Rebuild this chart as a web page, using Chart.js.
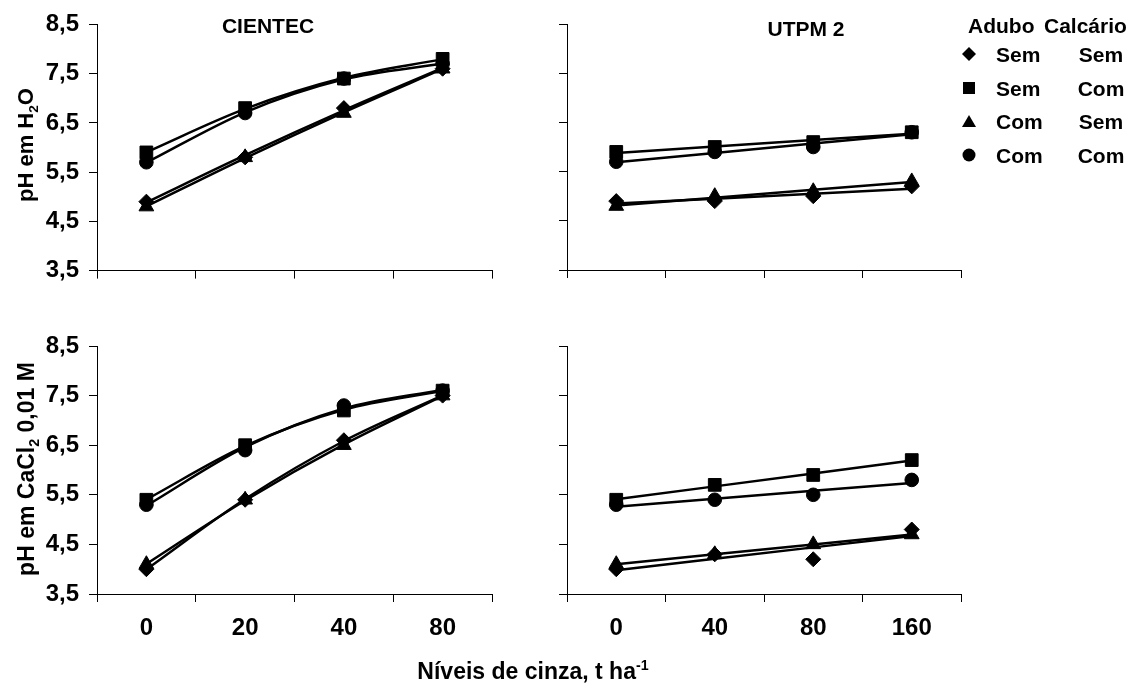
<!DOCTYPE html>
<html>
<head>
<meta charset="utf-8">
<script src="https://cdn.jsdelivr.net/npm/chart.js@4"></script>
<style>
  body { margin: 0; background: #fff; width: 1136px; height: 690px; position: relative; overflow: hidden;
         font-family: "Liberation Sans", Arial, sans-serif; font-weight: bold; color: #000; }
  canvas { position: absolute; }
  .txt { position: absolute; white-space: nowrap; line-height: 1; transform: translate(-50%, -50%); }
  .rot { transform: translate(-50%, -50%) rotate(-90deg); }
  .leg { position: absolute; white-space: nowrap; line-height: 1; font-size: 21px; transform: translateY(-50%); }
  .legc { transform: translate(-50%, -50%); }
  sub, sup { font-size: 62%; line-height: 0; }
</style>
</head>
<body>
<canvas id="tl" width="510" height="295" style="left:0;top:0"></canvas>
<canvas id="tr" width="460" height="290" style="left:520px;top:0"></canvas>
<canvas id="bl" width="510" height="340" style="left:0;top:320px"></canvas>
<canvas id="br" width="460" height="340" style="left:520px;top:320px"></canvas>

<div class="txt" style="left:268px;top:25px;font-size:21px">CIENTEC</div>
<div class="txt" style="left:806px;top:28px;font-size:21px">UTPM 2</div>
<div class="txt rot" style="left:26px;top:145px;font-size:22px">pH em H<sub>2</sub>O</div>
<div class="txt rot" style="left:26px;top:469px;font-size:23px">pH em CaCl<sub>2</sub> 0,01 M</div>
<div class="txt" style="left:533px;top:671px;font-size:23px">Níveis de cinza, t ha<sup>-1</sup></div>

<div id="legend"></div>

<script>
// categories
const cientecDoses = ['0', '20', '40', '80'];
const utpmDoses = ['0', '40', '80', '160'];
const yTickValues = [3.5, 4.5, 5.5, 6.5, 7.5, 8.5];

// legend rows: Adubo / Calcário
const aduboLabels = ['Sem', 'Sem', 'Com', 'Com'];
const calcarioLabels = ['Sem', 'Com', 'Sem', 'Com'];

// pH em H2O - CIENTEC (SS = sem adubo/sem calcário, SC, CS, CC)
const h2oCientecSS = [4.9, 5.8, 6.8, 7.6];
const h2oCientecSC = [5.9, 6.8, 7.4, 7.8];
const h2oCientecCS = [4.8, 5.8, 6.7, 7.6];
const h2oCientecCC = [5.7, 6.7, 7.4, 7.7];

// pH em H2O - UTPM 2
const h2oUtpmSS = [4.9, 4.9, 5.0, 5.2];
const h2oUtpmSC = [5.9, 6.0, 6.1, 6.3];
const h2oUtpmCS = [4.8, 5.0, 5.1, 5.3];
const h2oUtpmCC = [5.7, 5.9, 6.0, 6.3];

// pH em CaCl2 - CIENTEC
const cacl2CientecSS = [4.0, 5.4, 6.6, 7.5];
const cacl2CientecSC = [5.4, 6.5, 7.2, 7.6];
const cacl2CientecCS = [4.1, 5.4, 6.5, 7.5];
const cacl2CientecCC = [5.3, 6.4, 7.3, 7.6];

// pH em CaCl2 - UTPM 2
const cacl2UtpmSS = [4.0, 4.3, 4.2, 4.8];
const cacl2UtpmSC = [5.4, 5.7, 5.9, 6.2];
const cacl2UtpmCS = [4.1, 4.3, 4.5, 4.7];
const cacl2UtpmCC = [5.3, 5.4, 5.5, 5.8];

const FONT = '"Liberation Sans", Arial, sans-serif';
const markerStyles = ['rectRot', 'rect', 'triangle', 'circle'];
const markerRadius = [7.5, 9, 8.5, 6.8];

// least squares trend line on the category index (1..n), like the spreadsheet trendlines
function trend(ys, degree) {
  const n = degree + 1;
  const xs = ys.map((_, i) => i + 1);
  const A = [], b = [];
  for (let r = 0; r < n; r++) {
    A.push([]);
    for (let c = 0; c < n; c++) A[r].push(xs.reduce((s, x) => s + Math.pow(x, r + c), 0));
    b.push(xs.reduce((s, x, i) => s + ys[i] * Math.pow(x, r), 0));
  }
  for (let k = 0; k < n; k++) {
    for (let r = k + 1; r < n; r++) {
      const f = A[r][k] / A[k][k];
      for (let c = k; c < n; c++) A[r][c] -= f * A[k][c];
      b[r] -= f * b[k];
    }
  }
  const coef = new Array(n).fill(0);
  for (let k = n - 1; k >= 0; k--) {
    let s = b[k];
    for (let c = k + 1; c < n; c++) s -= A[k][c] * coef[c];
    coef[k] = s / A[k][k];
  }
  return xs.map(x => coef.reduce((s, a, p) => s + a * Math.pow(x, p), 0));
}

function panel(id, labels, series, degree, opt) {
  const datasets = [];
  series.forEach((ys, i) => {
    datasets.push({
      data: ys, showLine: false, order: 0,
      pointStyle: markerStyles[i], pointRadius: markerRadius[i],
      pointBackgroundColor: '#000', pointBorderColor: '#000', pointBorderWidth: 1
    });
    datasets.push({
      data: trend(ys, degree), order: 1, pointRadius: 0,
      borderColor: '#000', borderWidth: 2.5, fill: false,
      cubicInterpolationMode: degree > 1 ? 'monotone' : 'default', tension: 0
    });
  });

  new Chart(document.getElementById(id), {
    type: 'line',
    data: { labels: labels, datasets: datasets },
    options: {
      responsive: false,
      animation: false,
      events: [],
      layout: { padding: { top: opt.padTop, right: opt.padRight, bottom: 0, left: 0 } },
      plugins: { legend: { display: false }, tooltip: { enabled: false } },
      scales: {
        x: {
          offset: true,
          grid: { offset: true, drawOnChartArea: false, drawTicks: true, tickLength: 8, color: '#000' },
          border: { color: '#000', width: 1 },
          ticks: {
            display: opt.showX, color: '#000', padding: 12, maxRotation: 0, autoSkip: false,
            font: { family: FONT, size: 24, weight: 'bold' }
          },
          afterFit: s => { s.height = opt.xHeight; }
        },
        y: {
          min: 3.5, max: 8.5,
          afterBuildTicks: s => { s.ticks = yTickValues.map(v => ({ value: v })); },
          grid: { drawOnChartArea: false, drawTicks: true, tickLength: 8, color: '#000' },
          border: { color: '#000', width: 1 },
          ticks: {
            display: opt.showY, color: '#000', padding: 10,
            callback: v => Number(v).toFixed(1).replace('.', ','),
            font: { family: FONT, size: 24, weight: 'bold' }
          },
          afterFit: s => { s.width = opt.yWidth; }
        }
      }
    }
  });
}

panel('tl', cientecDoses, [h2oCientecSS, h2oCientecSC, h2oCientecCS, h2oCientecCC], 2,
  { padTop: 24, padRight: 18, yWidth: 97, xHeight: 20, showX: false, showY: true });
panel('tr', utpmDoses, [h2oUtpmSS, h2oUtpmSC, h2oUtpmCS, h2oUtpmCC], 1,
  { padTop: 24, padRight: 19, yWidth: 47, xHeight: 20, showX: false, showY: false });
panel('bl', cientecDoses, [cacl2CientecSS, cacl2CientecSC, cacl2CientecCS, cacl2CientecCC], 2,
  { padTop: 26, padRight: 18, yWidth: 97, xHeight: 66, showX: true, showY: true });
panel('br', utpmDoses, [cacl2UtpmSS, cacl2UtpmSC, cacl2UtpmCS, cacl2UtpmCC], 1,
  { padTop: 26, padRight: 19, yWidth: 47, xHeight: 66, showX: true, showY: false });

// legend (two text columns, so plain html)
const markerSvg = [
  '<polygon points="7,0 14,7 7,14 0,7"/>',
  '<rect x="1" y="1" width="12" height="12"/>',
  '<polygon points="7,1 14,13 0,13"/>',
  '<circle cx="7" cy="7" r="6.5"/>'
];
const rowY = [54, 88, 121, 155];
let html = '<div class="leg" style="left:968px;top:25px">Adubo</div>' +
           '<div class="leg" style="left:1044px;top:25px">Calcário</div>';
aduboLabels.forEach((a, i) => {
  html += '<svg style="position:absolute;left:962px;top:' + (rowY[i] - 7) + 'px" width="14" height="14">' + markerSvg[i] + '</svg>';
  html += '<div class="leg" style="left:996px;top:' + rowY[i] + 'px">' + a + '</div>';
  html += '<div class="leg legc" style="left:1101px;top:' + rowY[i] + 'px">' + calcarioLabels[i] + '</div>';
});
document.getElementById('legend').innerHTML = html;
</script>
</body>
</html>
